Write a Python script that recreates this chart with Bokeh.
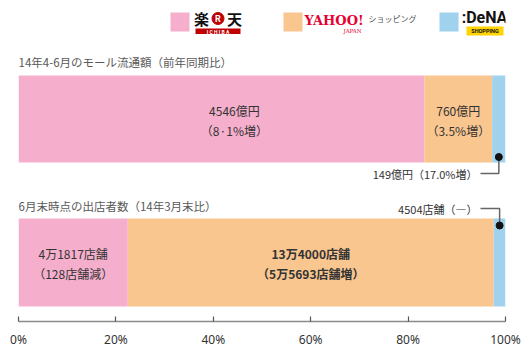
from bokeh.plotting import figure
from bokeh.models import Range1d, LinearAxis, FixedTicker, PrintfTickFormatter
from bokeh.core.properties import value
from bokeh.embed import file_html
from bokeh.resources import INLINE

# ---------------- data ----------------
companies = ["楽天市場", "Yahoo!ショッピング", "DeNAショッピング"]
colors = ["#F5AFCC", "#F9C690", "#A0D2EE"]
sales_oku = [4546, 760, 149]
sales_labels = ["4546億円", "760億円", "149億円"]
sales_change = ["8·1%増", "3.5%増", "17.0%増"]
store_counts = [41817, 140000, 4504]
store_labels = ["4万1817店舗", "13万4000店舗", "4504店舗"]
store_change = ["128店舗減", "5万5693店舗増", "―"]
titles = ["14年4-6月のモール流通額（前年同期比）", "6月末時点の出店者数（14年3月末比）"]
tick_values = [0, 20, 40, 60, 80, 100]

JP = "Noto Sans CJK JP"
W, H = 529, 353
L, R, B = 18, 24, 32
FW = W - L - R
FH = H - B


def px(x):
    return (x - L) / FW * 100.0


def segments(vals):
    tot = float(sum(vals))
    lefts, rights, cum = [], [], 0.0
    for v in vals:
        lefts.append(cum / tot * 100)
        cum += v
        rights.append(cum / tot * 100)
    return lefts, rights


p = figure(width=W, height=H, output_backend="svg", toolbar_location=None,
           x_range=Range1d(0, 100), y_range=Range1d(FH, 0),
           min_border_left=L, min_border_right=R, min_border_top=0, min_border_bottom=B,
           x_axis_location=None, y_axis_location=None)
p.outline_line_color = None
p.xgrid.visible = False
p.ygrid.visible = False
p.background_fill_color = "white"

rows = [
    dict(vals=sales_oku, labels=sales_labels, changes=sales_change, yc=118.5, h=87,
         title=titles[0], ty=61, dot_dy=38, line_y=173, xoff=[13, 0]),
    dict(vals=store_counts, labels=store_labels, changes=store_change, yc=262, h=88,
         title=titles[1], ty=205, dot_dy=-37, line_y=208, xoff=[0, 0]),
]

for i, r in enumerate(rows):
    lefts, rights = segments(r["vals"])
    p.hbar(y=[r["yc"]] * 3, left=lefts, right=rights, height=r["h"],
           fill_color=colors, line_color=None)
    p.text(x=[0], y=[r["ty"]], text=[r["title"]], text_font=value(JP),
           text_font_size="11.5px", text_color="#595959",
           text_align="left", text_baseline="middle")
    mids = [(a + b) / 2 for a, b in zip(lefts, rights)]
    for j in range(2):
        fw = "bold" if (i == 1 and j == 1) else "normal"
        p.text(x=[mids[j]], y=[r["yc"] - 9], text=[r["labels"][j]], text_font=value(JP),
               text_font_size="12px", text_color="#333333", text_font_style=fw,
               x_offset=r["xoff"][j],
               text_align="center", text_baseline="middle")
        p.text(x=[mids[j]], y=[r["yc"] + 11], text=["（" + r["changes"][j] + "）"],
               text_font=value(JP), text_font_size="12px", text_color="#333333",
               text_font_style=fw, x_offset=r["xoff"][j],
               text_align="center", text_baseline="middle")
    # callout for the small segment
    dot_y = r["yc"] + r["dot_dy"]
    ly = r["line_y"]
    p.line(x=[mids[2], mids[2], px(480)], y=[dot_y, ly, ly], line_color="#666666",
           line_width=1.5)
    p.scatter(x=[mids[2]], y=[dot_y], size=7, color="#111111")
    p.text(x=[px(477)], y=[ly], text=[r["labels"][2] + "（" + r["changes"][2] + "）"],
           text_font=value(JP), text_font_size="11px", text_color="#333333",
           text_align="right", text_baseline="middle")

# ---------------- legend ----------------
sq = [(170, 189), (283, 302), (439, 458)]
for (a, b), c in zip(sq, colors):
    p.quad(left=[px(a)], right=[px(b)], top=[12], bottom=[31], fill_color=c, line_color=None)

# Rakuten logo
p.text(x=[px(201)], y=[18], text=["楽"], text_font=value(JP), text_font_size="15px",
       text_font_style="bold", text_color="#111111", text_align="center", text_baseline="middle")
p.scatter(x=[px(217.5)], y=[18], size=12, color="#BF0000")
p.text(x=[px(217.5)], y=[18.5], text=["R"], text_font=value("Roboto"), text_font_size="9px",
       text_font_style="bold", text_color="white", text_align="center", text_baseline="middle")
p.text(x=[px(234)], y=[18], text=["天"], text_font=value(JP), text_font_size="15px",
       text_font_style="bold", text_color="#111111", text_align="center", text_baseline="middle")
p.quad(left=[px(195)], right=[px(240)], top=[28], bottom=[33.5], fill_color="#BF0000",
       line_color=None)
p.text(x=[px(217.5)], y=[31], text=["I C H I B A"], text_font=value("Roboto"),
       text_font_size="5px", text_font_style="bold", text_color="white",
       text_align="center", text_baseline="middle")

# Yahoo logo
p.text(x=[px(304)], y=[20], text=["YAHOO!"], text_font=value("DejaVu Serif"),
       text_font_size="13px", text_font_style="bold", text_color="#E60033",
       text_align="left", text_baseline="middle")
p.text(x=[px(352)], y=[30], text=["JAPAN"], text_font=value("DejaVu Serif"),
       text_font_size="5.5px", text_color="#E60033", text_align="center", text_baseline="middle")
p.text(x=[px(368)], y=[18], text=["ショッピング"], text_font=value(JP), text_font_size="8px",
       text_color="#555555", text_align="left", text_baseline="middle")

# DeNA logo
p.text(x=[px(484)], y=[17], text=[":DeNA"], text_font=value("Roboto"), text_font_size="16px",
       text_font_style="bold", text_color="#111111", text_align="center", text_baseline="middle")
p.quad(left=[px(466)], right=[px(503)], top=[26], bottom=[35], fill_color="#FFD400",
       line_color=None)
p.text(x=[px(484.5)], y=[30.7], text=["SHOPPING"], text_font=value("Roboto"),
       text_font_size="5.5px", text_font_style="bold", text_color="#111111",
       text_align="center", text_baseline="middle")

# ---------------- axis ----------------
ax = LinearAxis(ticker=FixedTicker(ticks=tick_values),
                formatter=PrintfTickFormatter(format="%d%%"))
ax.major_tick_in = 5
ax.major_tick_out = 0
ax.minor_tick_line_color = None
ax.axis_line_color = "#8a8a8a"
ax.axis_line_width = 1.5
ax.major_tick_line_color = "#555555"
ax.major_tick_line_width = 1.2
ax.major_label_text_font = "Noto Sans"
ax.major_label_text_font_size = "12px"
ax.major_label_text_color = "#333333"
ax.major_label_standoff = 9
p.add_layout(ax, "below")

open("out.html", "w").write(file_html(p, INLINE))
